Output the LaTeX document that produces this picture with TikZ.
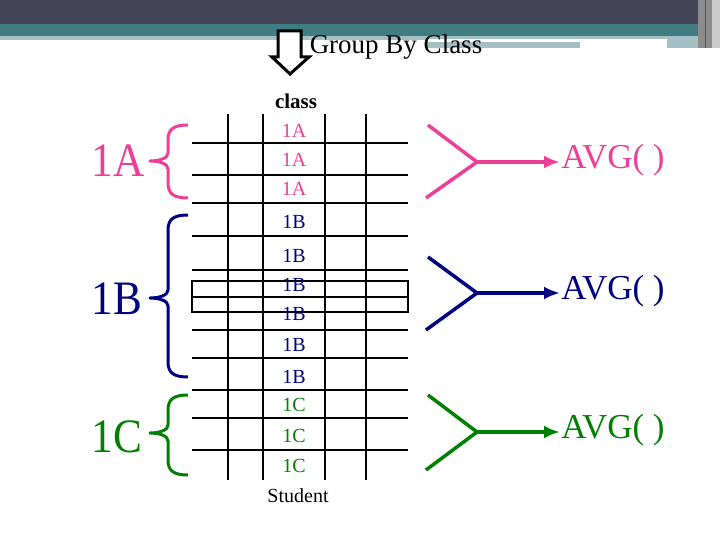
\documentclass[tikz,border=0pt]{standalone}
\usepackage{fontspec}
\setmainfont{Liberation Serif}
\usepackage{tikz}
\usetikzlibrary{arrows.meta,positioning}
\definecolor{mypink}{RGB}{236,64,150}
\definecolor{mynavy}{RGB}{0,0,128}
\definecolor{mygreen}{RGB}{0,128,0}
\definecolor{mydark}{RGB}{67,67,87}
\definecolor{myteal}{RGB}{64,125,130}
\definecolor{mylight}{RGB}{165,192,196}
\tikzstyle{cell}=[inner sep=0pt,font=\fontsize{20}{20}\selectfont]
\tikzstyle{group}=[inner sep=0pt,xscale=0.9,font=\fontsize{48}{48}\selectfont]
\tikzstyle{avg}=[inner sep=0pt,anchor=west,font=\fontsize{35}{35}\selectfont]
\tikzstyle{fork}=[line width=3.5pt]
\newcommand{\classbrace}[4]{%
  \draw[#1,line width=3pt,line join=round] (188,#2) .. controls (174,#2) and (168,#2+4) .. (168,#2+15)
    -- (168,#3-8) .. controls (168,#3-3) and (160,#3) .. (150,#3)
    .. controls (160,#3) and (168,#3+3) .. (168,#3+8)
    -- (168,#4-15) .. controls (168,#4-4) and (174,#4) .. (188,#4);}

\begin{document}
\begin{tikzpicture}[x=1pt,y=-1pt,line width=2.5pt]
\useasboundingbox (0,0) rectangle (720,540);
% title bar
\fill[mydark] (0,0) rectangle (698,24);
\fill[myteal] (0,24) rectangle (698,36);
\fill[mylight] (0,36) rectangle (698,40);
\fill[mylight] (427,42) rectangle (580,48);
\fill[mylight] (667,36) rectangle (698,48);
\fill[white] (427,39) rectangle (667,42);
\fill[black!45] (698,0) rectangle (712,48);
\fill[black!20] (712,0) rectangle (720,48);
\draw[line width=1pt,black!65] (705,0) -- (705,48);
% hollow arrow and heading
\draw[line width=3pt,fill=white,line join=miter] (278,31) -- (301,31) -- (301,57) -- (309,57)
  -- (290,74) -- (272,57) -- (278,57) -- cycle;
\draw (396,47) node [inner sep=0pt,font=\fontsize{27}{27}\selectfont] (title) {Group By Class};
\draw (296,101) node [inner sep=0pt,font=\fontsize{21}{21}\selectfont\bfseries] (head) {class};
\draw (298,496) node [inner sep=0pt,font=\fontsize{20}{20}\selectfont] (foot) {Student};
% table
\foreach \y in {143,175,203,236,270,297,330,358,390,418,450}
  \draw (192,\y) -- (408,\y);
\foreach \x in {228,263,325,366}
  \draw (\x,114) -- (\x,480);
\draw (192,281) rectangle (408,312);
\foreach \y/\t/\c [count=\i] in {131/1A/mypink,160/1A/mypink,189/1A/mypink,
    222/1B/mynavy,256/1B/mynavy,285/1B/mynavy,314/1B/mynavy,345/1B/mynavy,377/1B/mynavy,
    405/1C/mygreen,436/1C/mygreen,466/1C/mygreen}
  \draw (294,\y) node [cell,text=\c] (cell\i) {\t};
% groups
\draw (118,161) node [group,text=mypink] (gA) {1A};
\draw (117,299) node [group,text=mynavy] (gB) {1B};
\draw (117,437) node [group,text=mygreen] (gC) {1C};
\classbrace{mypink}{125}{161}{198}
\classbrace{mynavy}{215}{298}{377}
\classbrace{mygreen}{395}{433}{475}
% aggregates
\draw (560,160) node [avg,text=mypink] (avgA) {AVG( )};
\draw (560,291) node [avg,text=mynavy] (avgB) {AVG( )};
\draw (560,430) node [avg,text=mygreen] (avgC) {AVG( )};
\coordinate (uA) at (428,125); \coordinate (lA) at (426,198); \coordinate (jA) at (477,162);
\coordinate (uB) at (428,257); \coordinate (lB) at (426,330); \coordinate (jB) at (477,293);
\coordinate (uC) at (428,395); \coordinate (lC) at (426,470); \coordinate (jC) at (477,432);
\draw[fork,mypink] (uA) -- (jA) -- (lA);
\draw[fork,mynavy] (uB) -- (jB) -- (lB);
\draw[fork,mygreen] (uC) -- (jC) -- (lC);
\draw[fork,mypink,-{Latex[length=16pt,width=13pt]}] (jA) -- (jA -| avgA.west);
\draw[fork,mynavy,-{Latex[length=16pt,width=13pt]}] (jB) -- (jB -| avgB.west);
\draw[fork,mygreen,-{Latex[length=16pt,width=13pt]}] (jC) -- (jC -| avgC.west);
\end{tikzpicture}
\end{document}
